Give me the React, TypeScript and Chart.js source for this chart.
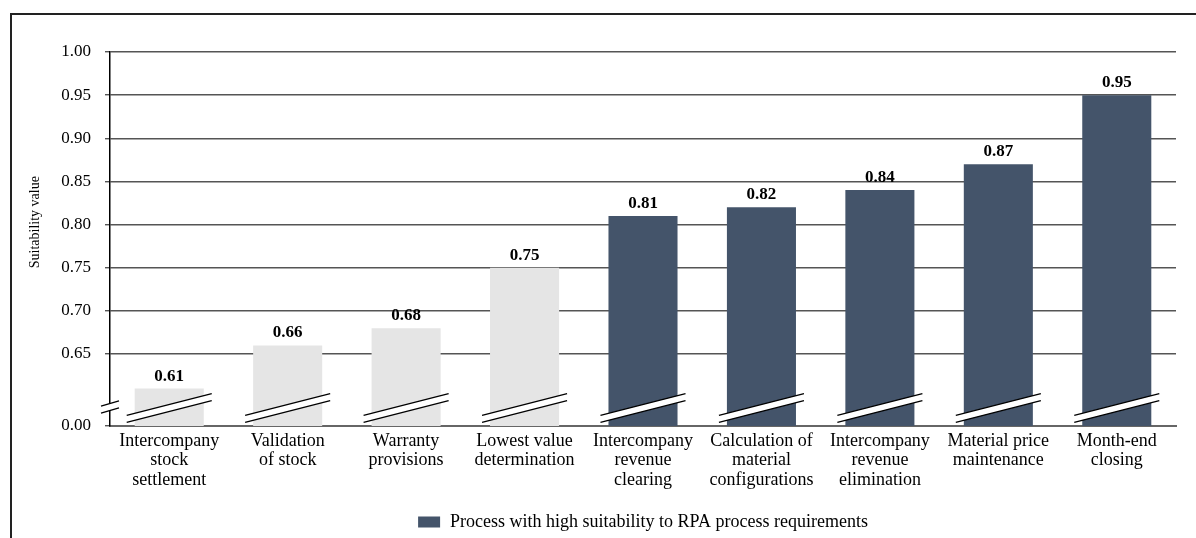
import React, { useEffect, useRef } from "react";
import { Chart, registerables } from "chart.js";

Chart.register(...registerables);

// Processes, ordered by their suitability score
const categories: string[][] = [
  ["Intercompany", "stock", "settlement"],
  ["Validation", "of stock"],
  ["Warranty", "provisions"],
  ["Lowest value", "determination"],
  ["Intercompany", "revenue", "clearing"],
  ["Calculation of", "material", "configurations"],
  ["Intercompany", "revenue", "elimination"],
  ["Material price", "maintenance"],
  ["Month-end", "closing"],
];

const suitability: number[] = [0.61, 0.66, 0.68, 0.75, 0.81, 0.82, 0.84, 0.87, 0.95];

// true = high suitability to RPA process requirements
const highSuitability: boolean[] = [false, false, false, false, true, true, true, true, true];

// Axis: broken between 0.00 and 0.65
const yTickValues: number[] = [0.65, 0.7, 0.75, 0.8, 0.85, 0.9, 0.95, 1.0];
const AXIS_TOP = 1.0;
const AXIS_BREAK_FLOOR = 0.5666; // value at which the "0.00" baseline sits after the break
const BASELINE_LABEL = "0.00";

const LEGEND_LABEL = "Process with high suitability to RPA process requirements";
const Y_TITLE = "Suitability value";

const DARK = "#44546A";
const LIGHT = "#E5E5E5";
const FONT = "'Liberation Serif', 'Times New Roman', serif";
const BAR_FRACTION = 0.583;

// Value labels above bars, axis-break symbols, the rotated y title and the legend
const decorPlugin = {
  id: "decor",
  afterDatasetsDraw(chart: any) {
    const ctx = chart.ctx as CanvasRenderingContext2D;
    const meta = chart.getDatasetMeta(0);
    const area = chart.chartArea;
    const yScale = chart.scales.y;
    const xScale = chart.scales.x;
    const basePx = yScale.getPixelForValue(AXIS_BREAK_FLOOR);
    const slotWidth = (xScale.right - xScale.left) / categories.length;

    const drawBreak = (cx: number, cy: number, half: number, slope: number, gap: number) => {
      ctx.save();
      ctx.fillStyle = "#ffffff";
      ctx.beginPath();
      ctx.moveTo(cx - half, cy + gap / 2 + half * slope);
      ctx.lineTo(cx + half, cy + gap / 2 - half * slope);
      ctx.lineTo(cx + half, cy - gap / 2 - half * slope);
      ctx.lineTo(cx - half, cy - gap / 2 + half * slope);
      ctx.closePath();
      ctx.fill();
      ctx.strokeStyle = "#000000";
      ctx.lineWidth = 1.3;
      ctx.beginPath();
      ctx.moveTo(cx - half, cy + gap / 2 + half * slope);
      ctx.lineTo(cx + half, cy + gap / 2 - half * slope);
      ctx.moveTo(cx - half, cy - gap / 2 + half * slope);
      ctx.lineTo(cx + half, cy - gap / 2 - half * slope);
      ctx.stroke();
      ctx.restore();
    };

    meta.data.forEach((bar: any, i: number) => {
      const x = xScale.getPixelForValue(i);
      const y = yScale.getPixelForValue(suitability[i]);
      const w = Number.isFinite(bar.width) ? bar.width : slotWidth * BAR_FRACTION;
      drawBreak(x, basePx - 18, w / 2 + 8, 0.254, 7);

      ctx.save();
      ctx.fillStyle = "#000000";
      ctx.font = `bold 17px ${FONT}`;
      ctx.textAlign = "center";
      ctx.textBaseline = "alphabetic";
      ctx.fillText(suitability[i].toFixed(2), x, y - 8);
      ctx.restore();
    });

    // break symbol across the y axis
    drawBreak(area.left, basePx - 19, 9, 0.3, 7);

    // rotated y-axis title
    ctx.save();
    ctx.fillStyle = "#000000";
    ctx.font = `14px ${FONT}`;
    ctx.textAlign = "center";
    ctx.textBaseline = "middle";
    ctx.translate(35, area.top + (area.bottom - area.top) * 0.455);
    ctx.rotate(-Math.PI / 2);
    ctx.fillText(Y_TITLE, 0, 0);
    ctx.restore();

    // legend, centred under the plot area
    ctx.save();
    ctx.font = `18px ${FONT}`;
    const textW = ctx.measureText(LEGEND_LABEL).width;
    const boxW = 22;
    const boxH = 11;
    const gapW = 10;
    const total = boxW + gapW + textW;
    const startX = (area.left + area.right) / 2 - total / 2;
    const cy = area.bottom + 96;
    ctx.fillStyle = DARK;
    ctx.fillRect(startX, cy - boxH / 2, boxW, boxH);
    ctx.fillStyle = "#000000";
    ctx.textAlign = "left";
    ctx.textBaseline = "middle";
    ctx.fillText(LEGEND_LABEL, startX + boxW + gapW, cy);
    ctx.restore();
  },
};

export default function App() {
  const canvasRef = useRef<HTMLCanvasElement | null>(null);

  useEffect(() => {
    const canvas = canvasRef.current;
    if (!canvas) return;

    const chart = new Chart(canvas, {
      type: "bar",
      data: {
        labels: categories,
        datasets: [
          {
            label: LEGEND_LABEL,
            data: suitability,
            backgroundColor: highSuitability.map((h) => (h ? DARK : LIGHT)),
            borderWidth: 0,
            categoryPercentage: 1,
            barPercentage: BAR_FRACTION,
          },
        ],
      },
      options: {
        animation: false,
        responsive: false,
        maintainAspectRatio: false,
        layout: { padding: { top: 52, left: 0, right: 20, bottom: 0 } },
        scales: {
          x: {
            grid: { display: false, drawTicks: false },
            border: { display: true, color: "#666666", width: 2 },
            ticks: {
              color: "#000000",
              font: { family: FONT, size: 18, lineHeight: 1.1 },
              padding: 5,
              maxRotation: 0,
              autoSkip: false,
            },
            afterFit(scale: any) {
              scale.height = 112;
            },
          },
          y: {
            min: AXIS_BREAK_FLOOR,
            max: AXIS_TOP,
            afterBuildTicks(scale: any) {
              scale.ticks = [AXIS_BREAK_FLOOR, ...yTickValues].map((v) => ({ value: v }));
            },
            afterFit(scale: any) {
              scale.width = 110;
            },
            grid: {
              color: "#555555",
              lineWidth: 1.4,
              tickLength: 5,
              tickColor: "#555555",
            },
            border: { display: true, color: "#000000", width: 1.5 },
            ticks: {
              color: "#000000",
              padding: 14,
              font: { family: FONT, size: 17 },
              callback: (v: any) =>
                Math.abs(Number(v) - AXIS_BREAK_FLOOR) < 1e-6 ? BASELINE_LABEL : Number(v).toFixed(2),
            },
          },
        },
        plugins: {
          legend: { display: false },
          tooltip: { enabled: false },
        },
      },
      plugins: [decorPlugin],
    });

    return () => chart.destroy();
  }, []);

  return (
    <div style={{ position: "fixed", left: 0, top: 0, width: 1196, height: 538, background: "#ffffff", overflow: "hidden" }}>
      <div
        style={{
          position: "absolute",
          left: 10,
          top: 13,
          width: 1400,
          height: 800,
          borderTop: "2px solid #222222",
          borderLeft: "2px solid #222222",
        }}
      />
      <canvas ref={canvasRef} width={1196} height={538} style={{ position: "absolute", left: 0, top: 0 }} />
    </div>
  );
}
